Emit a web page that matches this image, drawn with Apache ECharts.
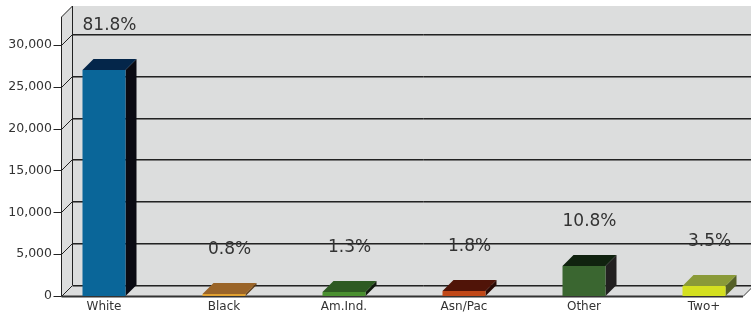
<!DOCTYPE html>
<html>
<head>
<meta charset="utf-8">
<script src="https://cdn.jsdelivr.net/npm/echarts@6/dist/echarts.min.js"></script>
<style>
  html, body { margin: 0; padding: 0; background: #fff; overflow: hidden; }
  #chart { width: 780px; height: 313px; }
</style>
</head>
<body>
<div id="chart"></div>
<script>
var categories = ['White', 'Black', 'Am.Ind.', 'Asn/Pac', 'Other', 'Two+'];
var counts = [27000, 270, 430, 600, 3560, 1160];
var yTicks = [0, 5000, 10000, 15000, 20000, 25000, 30000];
var yMax = 33333;

// front / top / side colours for each bar
var frontColors = ['#0a6699', '#e0a030', '#4a9030', '#c04818', '#3a6630', '#d4e020'];
var topColors = ['#04264a', '#9a6428', '#2e5a22', '#501408', '#10220f', '#8a9a38'];
var sideColors = ['#0a0a12', '#5a3a14', '#111a0e', '#2a0a04', '#222020', '#556028'];

var D = 11;          // depth offset of the pseudo 3d
var HALF = 21.5;     // half width of bar front
var FONT = '"DejaVu Sans", Verdana, sans-serif';

var total = counts.reduce(function(a, b) { return a + b; }, 0);

function renderWalls(params, api) {
  var cs = params.coordSys;
  var x0 = cs.x + 17.5;
  var xr = cs.x + cs.width - 21;
  var xEnd = cs.x + cs.width + 10;
  var yTop = api.coord([0, yMax])[1];
  var yBase = api.coord([0, 0])[1];
  var kids = [];
  var wall = '#dcdddd';

  kids.push({ type: 'polygon', shape: { points: [[x0, yTop], [x0 + D, yTop - D], [x0 + D, yBase - D], [x0, yBase]] },
    style: { fill: wall } });
  kids.push({ type: 'rect', shape: { x: x0 + D, y: yTop - D, width: xEnd - x0 - D, height: yBase - yTop },
    style: { fill: wall } });
  kids.push({ type: 'polygon', shape: { points: [[x0, yBase], [x0 + D, yBase - D], [xr + D, yBase - D], [xr, yBase]] },
    style: { fill: wall } });

  function line(x1, y1, x2, y2, color, w) {
    kids.push({ type: 'line', shape: { x1: x1, y1: y1, x2: x2, y2: y2 },
      style: { stroke: color, lineWidth: w || 1 } });
  }

  yTicks.forEach(function(v) {
    var y = Math.round(api.coord([0, v])[1]) + 0.5;
    line(x0, y, x0 + D, y - D, '#222');
    line(x0 + D, y - D, xEnd, y - D, '#222');
    line(x0 + D, y - D + 1, xEnd, y - D + 1, '#7a7a7a');
    line(x0 - 8, y, x0, y, '#222');
  });

  line(x0, yTop, x0, yBase, '#222');
  line(x0 + D, yTop - D, x0 + D, yBase - D, '#222');
  line(x0, yTop, x0 + D, yTop - D, '#222');
  var yb = Math.round(yBase) + 0.5;
  line(x0, yb, xr, yb, '#333', 2);
  line(xr, yb, xr + D, yb - D, '#333', 1);

  return { type: 'group', children: kids };
}

function renderBar(params, api) {
  var i = api.value(0);
  var v = api.value(1);
  var p = api.coord([i, v]);
  var cx = p[0];
  var top = Math.round(p[1]);
  var base = Math.round(api.coord([i, 0])[1]);
  var l = cx - HALF, r = cx + HALF;
  var idx = params.dataIndex;
  return {
    type: 'group',
    children: [
      { type: 'polygon', shape: { points: [[r, top], [r + D, top - D], [r + D, base - D], [r, base]] },
        style: { fill: sideColors[idx] } },
      { type: 'polygon', shape: { points: [[l, top], [l + D, top - D], [r + D, top - D], [r, top]] },
        style: { fill: topColors[idx] } },
      { type: 'rect', shape: { x: l, y: top, width: r - l, height: base - top },
        style: { fill: frontColors[idx] } },
      { type: 'text', x: cx + D / 2, y: top - 44,
        style: { text: (counts[idx] / total * 100).toFixed(1) + '%', fill: '#333', font: '17px ' + FONT,
          align: 'center', verticalAlign: 'middle' } }
    ]
  };
}

var chart = echarts.init(document.getElementById('chart'));
chart.setOption({
  animation: false,
  grid: { left: 44, width: 720, top: 17, height: 280 },
  xAxis: {
    type: 'category',
    data: categories,
    axisLine: { show: false },
    axisTick: { show: false },
    axisLabel: { color: '#333', fontFamily: FONT, fontSize: 12, margin: 5 },
    splitLine: { show: false }
  },
  yAxis: {
    type: 'value',
    min: 0,
    max: yMax,
    interval: 5000,
    offset: -17,
    axisLine: { show: false },
    axisTick: { show: false },
    splitLine: { show: false },
    axisLabel: {
      color: '#333', fontFamily: FONT, fontSize: 12.5, margin: 9,
      showMaxLabel: false,
      formatter: function(v) { return v % 5000 === 0 ? v.toLocaleString('en-US') : ''; }
    }
  },
  series: [
    {
      type: 'custom',
      z: 1,
      silent: true,
      renderItem: renderWalls,
      data: [[0, 0]]
    },
    {
      type: 'custom',
      z: 2,
      silent: true,
      renderItem: renderBar,
      data: counts.map(function(v, i) { return [i, v]; })
    }
  ]
});
</script>
</body>
</html>
